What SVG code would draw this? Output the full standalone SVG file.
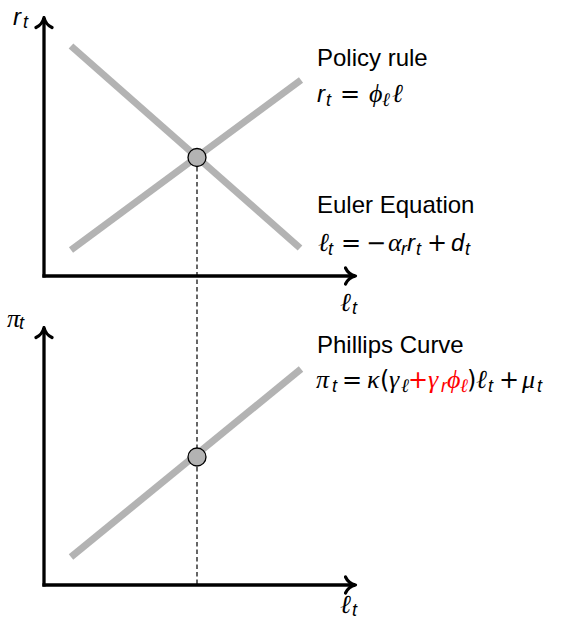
<svg xmlns="http://www.w3.org/2000/svg" width="583" height="621" viewBox="0 0 583 621">
<style>
.axis{stroke:#000;stroke-width:3.3;fill:none}
.curve{stroke:#b3b3b3;stroke-width:7;fill:none}
.dash{stroke:#000;stroke-width:1.2;stroke-dasharray:4.5,3;fill:none}
.pt{fill:#b3b3b3;stroke:#000;stroke-width:1.3}
.lbl{font-family:"Liberation Sans",Arial,sans-serif;font-size:24px;fill:#000}
.m{font-family:"Liberation Serif","Times New Roman",serif;font-style:italic;font-size:26px}
.s{font-family:"Liberation Sans",Arial,sans-serif;font-style:italic;font-size:24px}
.ms{font-family:"Liberation Serif","Times New Roman",serif;font-style:italic;font-size:19px}
.ss{font-family:"Liberation Sans",Arial,sans-serif;font-style:italic;font-size:18px}
.o{font-family:"DejaVu Sans",sans-serif;font-size:24px}
.red{fill:#ff0000}
</style>
<defs>
<marker id="arr" viewBox="0 0 14 20" refX="11.5" refY="10" markerWidth="14" markerHeight="20" markerUnits="userSpaceOnUse" orient="auto">
<path d="M2,2 Q5,8.5 12,10 Q5,11.5 2,18" fill="none" stroke="#000" stroke-width="3.2" stroke-linecap="round" stroke-linejoin="round"/>
</marker>
</defs>
<g id="connectors">
<line class="dash" x1="197" y1="167" x2="197" y2="585"/>
</g>
<g id="top-axes">
<line class="axis" x1="44" y1="277.6" x2="44" y2="18" marker-end="url(#arr)"/>
<line class="axis" x1="42.4" y1="276" x2="355" y2="276" marker-end="url(#arr)"/>
<text class="lbl"><tspan class="s" x="13" y="25" font-size="23">r</tspan><tspan class="ss" x="23" y="28">t</tspan></text>
<text class="lbl"><tspan class="m" x="340" y="311">ℓ</tspan><tspan class="ss" x="352" y="314">t</tspan></text>
</g>
<g id="policy-rule">
<line class="curve" x1="71" y1="250" x2="301" y2="80"/>
<text class="lbl" x="317" y="66">Policy rule</text>
<text class="lbl"><tspan class="s" x="317" y="102">r</tspan><tspan class="ss" x="326" y="106">t</tspan><tspan class="o" x="340" y="102">=</tspan><tspan class="m" x="369" y="102">ϕ</tspan><tspan class="ms" x="382" y="106">ℓ</tspan><tspan class="m" x="392" y="102">ℓ</tspan></text>
</g>
<g id="euler-equation">
<line class="curve" x1="71" y1="46" x2="300" y2="248"/>
<text class="lbl" x="317" y="213">Euler Equation</text>
<text class="lbl"><tspan class="m" x="318" y="251">ℓ</tspan><tspan class="ss" x="328" y="255">t</tspan><tspan class="o" x="341" y="251">=</tspan><tspan class="o" x="366" y="251">−</tspan><tspan class="m" x="388" y="251">α</tspan><tspan class="ss" x="401" y="255">r</tspan><tspan class="s" x="407" y="251">r</tspan><tspan class="ss" x="416" y="255">t</tspan><tspan class="o" x="427" y="251">+</tspan><tspan class="s" x="451" y="251">d</tspan><tspan class="ss" x="465" y="255">t</tspan></text>
</g>
<g id="top-equilibrium">
<circle class="pt" cx="197" cy="157.5" r="9"/>
</g>
<g id="bottom-axes">
<line class="axis" x1="44" y1="586.6" x2="44" y2="328" marker-end="url(#arr)"/>
<line class="axis" x1="42.4" y1="585" x2="355" y2="585" marker-end="url(#arr)"/>
<text class="lbl"><tspan class="m" x="7" y="327" font-size="22">π</tspan><tspan class="ss" x="19" y="329">t</tspan></text>
<text class="lbl"><tspan class="m" x="340" y="613">ℓ</tspan><tspan class="ss" x="352" y="616">t</tspan></text>
</g>
<g id="phillips-curve">
<line class="curve" x1="71" y1="557" x2="301" y2="369"/>
<text class="lbl" x="317" y="353">Phillips Curve</text>
<text class="lbl"><tspan class="m" x="316" y="388">π</tspan><tspan class="ss" x="332" y="392">t</tspan><tspan class="o" x="342" y="388">=</tspan><tspan class="m" x="367" y="388">κ</tspan><tspan class="o" x="380" y="388">(</tspan><tspan class="m" x="389" y="388">γ</tspan><tspan class="ms" x="401" y="392">ℓ</tspan><tspan class="o red" x="408" y="388">+</tspan><tspan class="m red" x="428" y="388">γ</tspan><tspan class="ss red" x="441" y="392">r</tspan><tspan class="m red" x="447" y="388">ϕ</tspan><tspan class="ms red" x="460" y="392">ℓ</tspan><tspan class="o" x="467" y="388">)</tspan><tspan class="m" x="476" y="388">ℓ</tspan><tspan class="ss" x="488" y="392">t</tspan><tspan class="o" x="499" y="388">+</tspan><tspan class="m" x="522" y="388">μ</tspan><tspan class="ss" x="537" y="392">t</tspan></text>
</g>
<g id="bottom-equilibrium">
<circle class="pt" cx="197" cy="457" r="9"/>
</g>
</svg>
